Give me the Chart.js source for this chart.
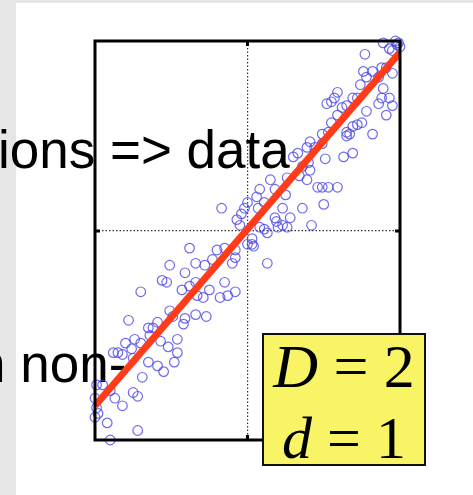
<!DOCTYPE html>
<html lang="en">
  <head>
    <meta charset="UTF-8" />
    <title>D = 2, d = 1</title>
    <script src="https://cdn.jsdelivr.net/npm/chart.js"></script>
    <style>
      body { margin: 0; width: 473px; height: 495px; position: relative; overflow: hidden; background: #fff; }
      .strip-left { position: absolute; left: 0; top: 0; width: 16px; height: 495px; background: #e6e6e6; }
      .strip-top { position: absolute; left: 0; top: 0; width: 473px; height: 3px; background: #e6e6e6; }
      .slide-text {
        position: absolute; white-space: pre; color: #000;
        font-family: "Liberation Sans", Arial, sans-serif; font-size: 53px; line-height: 53px;
      }
      #plot { position: absolute; left: 0; top: 0; }
      .dims {
        position: absolute; left: 262px; top: 333px; width: 160px; height: 129px;
        border: 2px solid #111; background: #f8f466;
        font-family: "Liberation Serif", "Times New Roman", serif; color: #000;
      }
      .dims div { position: absolute; left: 0; width: 100%; text-align: center; white-space: pre; }
      .dims i { font-style: italic; }
    </style>
  </head>

  <body>
    <div class="strip-left"></div>
    <div class="strip-top"></div>
    <div class="slide-text" style="left: -2px; top: 123px">ions =&gt; data</div>
    <div class="slide-text" style="left: -24px; top: 337px">n non-</div>

    <canvas id="plot" width="473" height="495"></canvas>

    <div class="dims">
      <div style="top: 0px; font-size: 62px; line-height: 62px"><i>D</i> = 2</div>
      <div style="top: 73px; font-size: 60px; line-height: 60px"><i>d</i> = 1</div>
    </div>

    <script>
      // samples (x, y) scattered along the diagonal
      const pointX = [
        77, 89, 93, 98, 95, 76, 82, 78, 86, 88, 91, 95, 74, 89, 88, 93, 95, 91, 78, 86,
        69, 72, 59, 57, 55, 52, 62, 65, 59, 55, 72, 75, 67, 65, 82, 49, 41, 99, 100, 97,
        69, 65, 53, 49, 44, 39, 33, 30, 63, 69, 51, 40, 36, 41, 34, 39, 15, 26, 46, 49,
        53, 59, 18, 8, 25, 6, 0, 11, 50, -17, -2, 7, 23, 36, -4, 18, 28, -7, 19, 23,
        42, -5, 8, 13,
        11, 20, 26, 3, 3, -38, -20, -15, -8, -8, 13, -51, -34, -28, -23, -10, -41, -56, -53, -34,
        -15, -70, -43, -38, -25, -8, -13, -29, -18, -33, -51, -34, -27, -42, -59, -65, 0, 4,
        -78, -62, -49, -41, -64, -80, -74, -70, -76, -57, -52, -46, -88, -85, -82, -75, -46, -65, -59, -55,
        -48, -69, -95, -99, -90, -75, -72, -87, -82, -98, -100, -92, -72, -90, -99, -100,
      ];
      const pointY = [
        93, 99, 96, 98, 95, 84, 84, 81, 81, 86, 86, 83, 77, 75, 70, 70, 66, 61, 63, 67,
        70, 70, 73, 70, 68, 67, 65, 66, 61, 57, 56, 57, 51, 50, 51, 51, 47, 99, 97, 100,
        55, 52, 52, 46, 44, 44, 41, 39, 39, 41, 38, 36, 34, 32, 29, 27, 27, 28, 23, 23,
        23, 23, 22, 22, 19, 18, 15, 15, 14, 12, 12, 12, 12, 12, 9, 7, 7, 6, 5, 3,
        3, 3, 2, -1,
        1, 2, 2, -4, -7, -9, -10, -9, -10, -14, -17, -18, -17, -18, -15, -17, -22, -26, -27, -27,
        -27, -32, -31, -29, -31, -32, -34, -35, -35, -34, -42, -44, -45, -49, -48, -51, -7, -8,
        -47, -51, -45, -46, -55, -59, -57, -59, -62, -58, -61, -57, -64, -64, -65, -67, -64, -69, -71, -74,
        -69, -77, -81, -81, -84, -85, -87, -88, -92, -96, -98, -101, -105, -110, -93, -88,
      ];

      // fitted 1-D line through the cloud
      const lineX = [-100, 100];
      const lineY = [-92, 94];

      const xRange = [-100, 100];
      const yRange = [-110, 100];

      // frame round the plot area plus MATLAB-style inward ticks at 0
      const framePlugin = {
        id: "frame",
        afterDatasetsDraw(chart) {
          const { ctx, chartArea: a, scales } = chart;
          const x0 = scales.x.getPixelForValue(0);
          const y0 = scales.y.getPixelForValue(0);
          ctx.save();
          ctx.strokeStyle = "#000";
          ctx.lineWidth = 3;
          ctx.strokeRect(a.left, a.top, a.right - a.left, a.bottom - a.top);
          ctx.beginPath();
          ctx.moveTo(x0, a.top); ctx.lineTo(x0, a.top + 5);
          ctx.moveTo(x0, a.bottom); ctx.lineTo(x0, a.bottom - 5);
          ctx.moveTo(a.left, y0); ctx.lineTo(a.left + 5, y0);
          ctx.moveTo(a.right, y0); ctx.lineTo(a.right - 5, y0);
          ctx.stroke();
          ctx.restore();
        },
      };

      const zeroOnly = (scale) => { scale.ticks = [{ value: 0 }]; };
      const axis = (range) => ({
        type: "linear",
        min: range[0],
        max: range[1],
        afterBuildTicks: zeroOnly,
        ticks: { display: false },
        grid: { color: "#333", lineWidth: 1.2, drawTicks: false },
        border: { display: false, dash: [1.5, 2] },
      });

      new Chart(document.getElementById("plot"), {
        type: "scatter",
        data: {
          datasets: [
            {
              type: "line",
              data: lineX.map((x, i) => ({ x, y: lineY[i] })),
              borderColor: "#ff3b1a",
              borderWidth: 7,
              pointRadius: 0,
              order: 0,
            },
            {
              data: pointX.map((x, i) => ({ x, y: pointY[i] })),
              pointStyle: "circle",
              pointRadius: 4.8,
              borderWidth: 1.2,
              borderColor: "rgba(75, 70, 230, 0.8)",
              backgroundColor: "rgba(0, 0, 0, 0)",
              clip: false,
              order: 1,
            },
          ],
        },
        options: {
          responsive: false,
          animation: false,
          layout: { padding: { left: 95, top: 41, right: 73, bottom: 55 } },
          plugins: { legend: { display: false }, tooltip: { enabled: false } },
          scales: { x: axis(xRange), y: axis(yRange) },
        },
        plugins: [framePlugin],
      });
    </script>
  </body>
</html>
